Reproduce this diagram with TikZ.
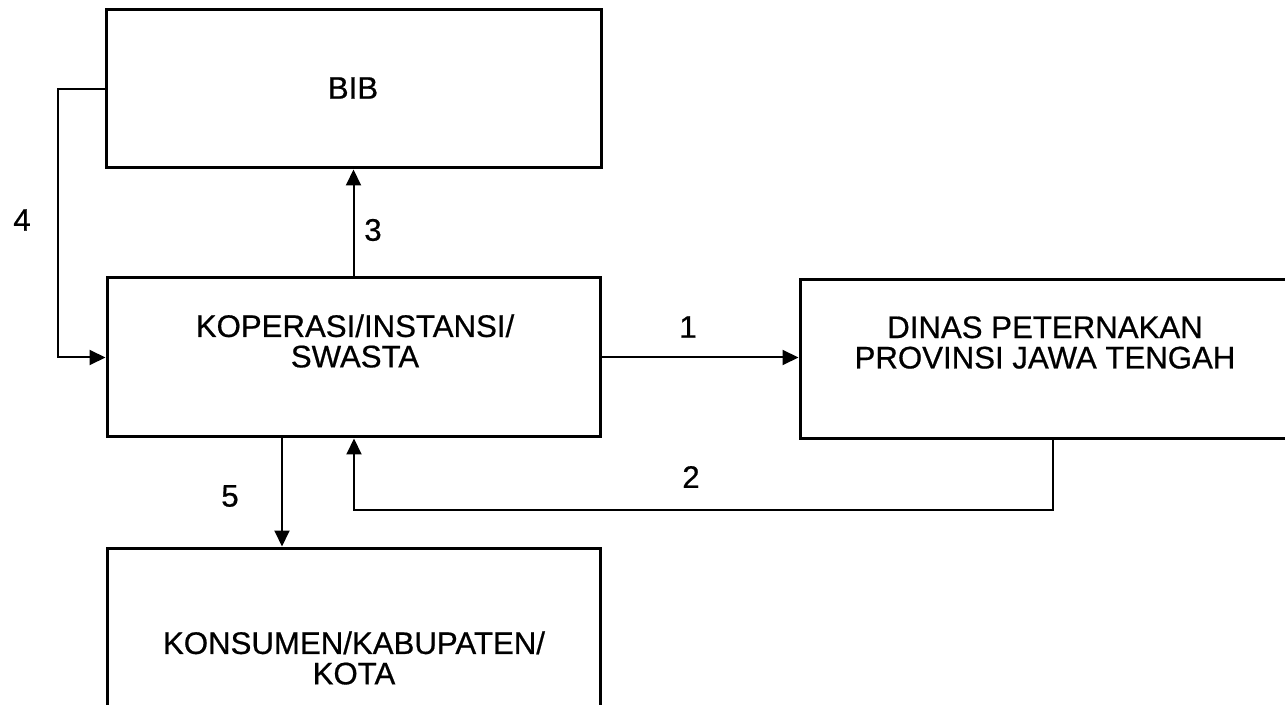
\documentclass[tikz,border=0pt]{standalone}
\usepackage{fontspec}
\setmainfont{Liberation Sans}[FakeBold=0.6]
\usetikzlibrary{arrows.meta}

\begin{document}
\begin{tikzpicture}[x=0.5pt,y=-0.5pt,
    box/.style={draw,line width=1.5pt,inner sep=0pt},
    txt/.style={align=center,inner sep=0pt,font=\fontsize{15.6}{15.2}\selectfont},
    arr/.style={line width=1pt,-{Triangle[length=8pt,width=7.5pt]}}]
  \useasboundingbox (0,0) rectangle (1285,705);

  % boxes
  \node (bib) [box,minimum width=247.5pt,minimum height=79pt] at (353.5,89) {};
  \node (kop) [box,minimum width=246.5pt,minimum height=79.5pt] at (353.5,357.5) {};
  \node (din) [box,minimum width=245pt,minimum height=79.5pt] at (1045,359.5) {};
  \node (kon) [box,minimum width=246.5pt,minimum height=111pt] at (353.5,659) {};

  % texts
  \node (bibt) [txt] at (353,88) {BIB};
  \node (kopt) [txt] at (355,341) {KOPERASI/INSTANSI/\\SWASTA};
  \node (dint) [txt] at (1045,342.5) {DINAS PETERNAKAN\\PROVINSI JAWA TENGAH};
  \node (kont) [txt] at (354,658) {KONSUMEN/KABUPATEN/\\KOTA};

  % 1
  \draw[arr] (kop.east) -- (kop.east -| din.west);
  \node (n1) [txt] at (688,327) {1};

  % 2
  \path (node cs:name=din,anchor=south) +(8,69) coordinate (dinb) {};
  \path (node cs:name=kop,anchor=south) +(0.5,71) coordinate (kopb) {};
  \draw[arr] (din.south -| dinb) -- (dinb) -- (kopb) -- (kop.south -| kopb);
  \node (n2) [txt] at (691,477) {2};

  % 3
  \draw[arr] (kop.north) -- (bib.south);
  \node (n3) [txt] at (373,230) {3};

  % 4
  \path (node cs:name=bib,anchor=west) +(-47,0) coordinate (bibw) {};
  \draw[arr] (bib.west) -- (bibw) |- (kop.west);
  \node (n4) [txt] at (22,220) {4};

  % 5
  \path (node cs:name=kop,anchor=south) +(-71.5,0) coordinate (kopo) {};
  \draw[arr] (kopo) -- (kopo |- kon.north);
  \node (n5) [txt] at (230,496) {5};
\end{tikzpicture}
\end{document}
